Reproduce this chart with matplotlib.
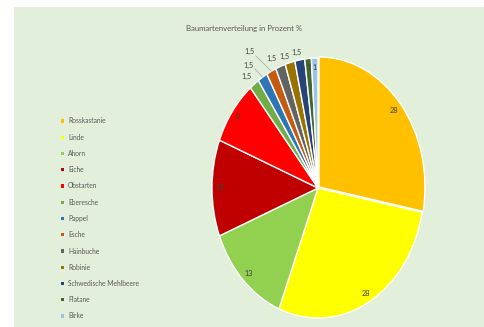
import numpy as np
import matplotlib.pyplot as plt
from matplotlib.patches import Rectangle

# data
arten = ['Rosskastanie', 'Linde', 'Ahorn', 'Eiche', 'Obstarten', 'Eberesche', 'Pappel',
         'Esche', 'Hainbuche', 'Robinie', 'Schwedische Mehlbeere', 'Platane', 'Birke']
prozent = [28, 28, 13, 12, 8, 1.5, 1.5, 1.5, 1.5, 1.5, 1.5, 1, 1]
farben = ['#FFC000', '#FFFF00', '#92D050', '#C00000', '#FF0000', '#70AD47', '#2E75B6',
          '#C55A11', '#636363', '#997300', '#264478', '#43682B', '#9DC3E6']
titel = 'Baumartenverteilung in Prozent %'

# label placement (radius, angle clockwise from top) for the crowded small slices
label_override = {5: (1.09, 321.8), 6: (1.15, 325.3), 7: (1.23, 328.3),
                  8: (1.09, 336.4), 9: (1.06, 342.9), 10: (1.06, 349.1)}
leader = {6, 7}

plt.rcParams['font.family'] = ['Lato', 'DejaVu Sans']
W, H = 485, 327
fig = plt.figure(figsize=(W / 100, H / 100), dpi=100)
fig.patch.set_facecolor('white')
fig.patches.append(Rectangle((14 / W, 0), 1, (H - 7) / H, transform=fig.transFigure,
                             facecolor='#E2EFDA', edgecolor='none', zorder=-5))

ax = fig.add_axes([212 / W, 9 / H, 212 / W, 260 / H])
ax.set_zorder(2)
explode = [0.012] + [0] * (len(prozent) - 1)
wedges, _ = ax.pie(prozent, colors=farben, startangle=90, counterclock=False,
                   explode=explode, wedgeprops=dict(edgecolor='white', linewidth=1.0))
ax.set_xlim(-1, 1)
ax.set_ylim(-1, 1)
ax.set_aspect('auto')
ax.axis('off')

def fmt(v):
    return ('%g' % v).replace('.', ',')

total = sum(prozent)
start = 0.0
for i, v in enumerate(prozent):
    mid = start + v / total * 360 / 2
    start += v / total * 360
    r, ang = label_override.get(i, (0.93, mid))
    x = r * np.sin(np.radians(ang))
    y = r * np.cos(np.radians(ang))
    ax.text(x, y, fmt(v), ha='center', va='center', fontsize=5.3, color='#404040',
            clip_on=False)
    if i in leader:
        ex = 1.0 * np.sin(np.radians(mid))
        ey = 1.0 * np.cos(np.radians(mid))
        ax.plot([x + 0.06, ex], [y - 0.03, ey], color='#A6A6A6', lw=0.5, clip_on=False)

fig.text(244 / W, 1 - 29 / H, titel, ha='center', va='center', fontsize=5.6, color='#595959')

# legend
for i, (name, c) in enumerate(zip(arten, farben)):
    yy = 1 - (121 + i * 16.25) / H
    fig.patches.append(Rectangle((61 / W, yy - 1.6 / H), 3.2 / W, 3.2 / H,
                                 transform=fig.transFigure, facecolor=c, edgecolor='none'))
    fig.text(68 / W, yy, name, ha='left', va='center', fontsize=4.8, color='#595959')

fig.savefig('out.png', dpi=100)
